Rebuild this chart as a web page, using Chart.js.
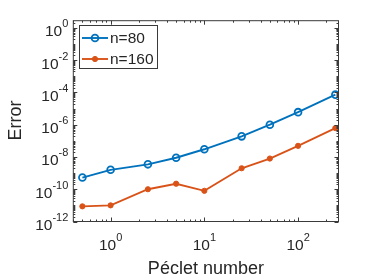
<!DOCTYPE html>
<html>
<head>
<meta charset="utf-8">
<script src="https://cdn.jsdelivr.net/npm/chart.js@4.4.0/dist/chart.umd.min.js"></script>
<style>
  html, body { margin: 0; padding: 0; background: #fff; }
</style>
</head>
<body>
<canvas id="myChart1" width="374" height="280"></canvas>
<script>
const pecletNumbers = [0.5, 1, 2.5, 5, 10, 25, 50, 100, 250];
const errorN80 = [5.3e-10, 1.6e-9, 3.5e-9, 9e-9, 3e-8, 1.9e-7, 1e-6, 6e-6, 7.3e-5];
const errorN160 = [8.7e-12, 1e-11, 1e-10, 2.2e-10, 8e-11, 2e-9, 8e-9, 4.9e-8, 6.2e-7];
const seriesLabels = ["n=80", "n=160"];
const seriesColors = ["#0072BD", "#D95319"];
const xTickExponents = [0, 1, 2];
const yTickExponents = [-12, -10, -8, -6, -4, -2, 0];
const xTitle = "Péclet number";
const yTitle = "Error";

const textColor = "#262626";
const axisColor = "#3a3a3a";
const fontFam = "'Liberation Sans', Arial, sans-serif";

function toPoints(xs, ys) {
  return xs.map(function (x, i) { return { x: x, y: ys[i] }; });
}

// draws "10" with a raised exponent
function drawPow(ctx, exp, x, yBase, align) {
  ctx.font = "15.5px " + fontFam;
  const wBase = ctx.measureText("10").width;
  ctx.font = "11px " + fontFam;
  const wExp = ctx.measureText(exp).width;
  let left = x;
  if (align === "right") left = x - wBase - wExp;
  if (align === "center") left = x - (wBase + wExp) / 2;
  ctx.textAlign = "left";
  ctx.textBaseline = "alphabetic";
  ctx.font = "15.5px " + fontFam;
  ctx.fillText("10", left, yBase);
  ctx.font = "11px " + fontFam;
  ctx.fillText(exp, left + wBase, yBase - 9);
}

const matlabAxes = {
  id: "matlabAxes",
  afterDraw(chart) {
    const ctx = chart.ctx;
    const area = chart.chartArea;
    const xs = chart.scales.x;
    const ys = chart.scales.y;
    ctx.save();

    // box
    ctx.strokeStyle = axisColor;
    ctx.lineWidth = 1;
    ctx.strokeRect(area.left, area.top, area.right - area.left, area.bottom - area.top);

    // x ticks
    ctx.beginPath();
    for (let e = -1; e <= 2; e++) {
      for (let m = 1; m <= 9; m++) {
        const v = m * Math.pow(10, e);
        if (v < xs.min || v > xs.max) continue;
        const px = Math.round(xs.getPixelForValue(v)) + 0.5;
        const len = m === 1 ? 4 : 2;
        ctx.moveTo(px, area.bottom); ctx.lineTo(px, area.bottom - len);
        ctx.moveTo(px, area.top); ctx.lineTo(px, area.top + len);
      }
    }
    // y ticks
    for (let e = -12; e <= 0; e++) {
      for (let m = 1; m <= 9; m++) {
        const v = m * Math.pow(10, e);
        if (v < ys.min || v > ys.max) continue;
        const py = Math.round(ys.getPixelForValue(v)) + 0.5;
        const len = (m === 1 && yTickExponents.includes(e)) ? 4 : 2;
        ctx.moveTo(area.left, py); ctx.lineTo(area.left + len, py);
        ctx.moveTo(area.right, py); ctx.lineTo(area.right - len, py);
      }
    }
    ctx.stroke();

    // tick labels
    ctx.fillStyle = textColor;
    xTickExponents.forEach(function (e) {
      drawPow(ctx, String(e), xs.getPixelForValue(Math.pow(10, e)), 250, "center");
    });
    yTickExponents.forEach(function (e) {
      drawPow(ctx, String(e), area.left - 5, ys.getPixelForValue(Math.pow(10, e)) + 8.5, "right");
    });

    // axis titles
    ctx.font = "18px " + fontFam;
    ctx.textAlign = "center";
    ctx.textBaseline = "alphabetic";
    ctx.fillText(xTitle, (area.left + area.right) / 2, 274);
    ctx.save();
    ctx.translate(21, 120.5);
    ctx.rotate(-Math.PI / 2);
    ctx.fillText(yTitle, 0, 0);
    ctx.restore();

    // legend
    const lx = 79, ly = 25, lw = 78, lh = 43;
    ctx.fillStyle = "#fff";
    ctx.fillRect(lx, ly, lw, lh);
    ctx.strokeStyle = axisColor;
    ctx.lineWidth = 1;
    ctx.strokeRect(lx + 0.5, ly + 0.5, lw, lh);
    chart.data.datasets.forEach(function (ds, i) {
      const cy = ly + 13 + i * 21;
      ctx.strokeStyle = ds.borderColor;
      ctx.lineWidth = ds.borderWidth;
      ctx.beginPath();
      ctx.moveTo(lx + 3, cy); ctx.lineTo(lx + 29, cy);
      ctx.stroke();
      ctx.beginPath();
      ctx.arc(lx + 16, cy, ds.pointRadius, 0, Math.PI * 2);
      if (ds.pointBackgroundColor !== "rgba(255,255,255,0)") {
        ctx.fillStyle = ds.pointBackgroundColor;
        ctx.fill();
      }
      ctx.lineWidth = ds.pointBorderWidth;
      ctx.stroke();
      ctx.fillStyle = textColor;
      ctx.font = "15.5px " + fontFam;
      ctx.textAlign = "left";
      ctx.textBaseline = "middle";
      ctx.fillText(ds.label, lx + 31, cy + 1);
    });
    ctx.restore();
  }
};

const myChart1 = document.getElementById("myChart1").getContext("2d");
const errChart = new Chart(myChart1, {
  type: "line",
  data: {
    datasets: [
      {
        label: seriesLabels[0],
        data: toPoints(pecletNumbers, errorN80),
        borderColor: seriesColors[0],
        borderWidth: 1.9,
        pointRadius: 3.4,
        pointBorderWidth: 1.8,
        pointBackgroundColor: "rgba(255,255,255,0)",
        pointBorderColor: seriesColors[0],
        tension: 0,
      },
      {
        label: seriesLabels[1],
        data: toPoints(pecletNumbers, errorN160),
        borderColor: seriesColors[1],
        borderWidth: 1.9,
        pointRadius: 2.6,
        pointBorderWidth: 1,
        pointBackgroundColor: seriesColors[1],
        pointBorderColor: seriesColors[1],
        tension: 0,
      },
    ],
  },
  options: {
    responsive: false,
    animation: false,
    devicePixelRatio: 1,
    layout: { padding: { left: 0, right: 35.5, top: 20.7, bottom: 0 } },
    plugins: { legend: { display: false }, tooltip: { enabled: false } },
    scales: {
      x: {
        type: "logarithmic",
        min: 0.4,
        max: 270,
        grid: { display: false },
        border: { display: false },
        ticks: { display: false },
        afterFit: function (s) { s.height = 58.5; },
      },
      y: {
        type: "logarithmic",
        min: 1e-12,
        max: 2.8,
        grid: { display: false },
        border: { display: false },
        ticks: { display: false },
        afterFit: function (s) { s.width = 73.3; },
      },
    },
  },
  plugins: [matlabAxes],
});
</script>
</body>
</html>
